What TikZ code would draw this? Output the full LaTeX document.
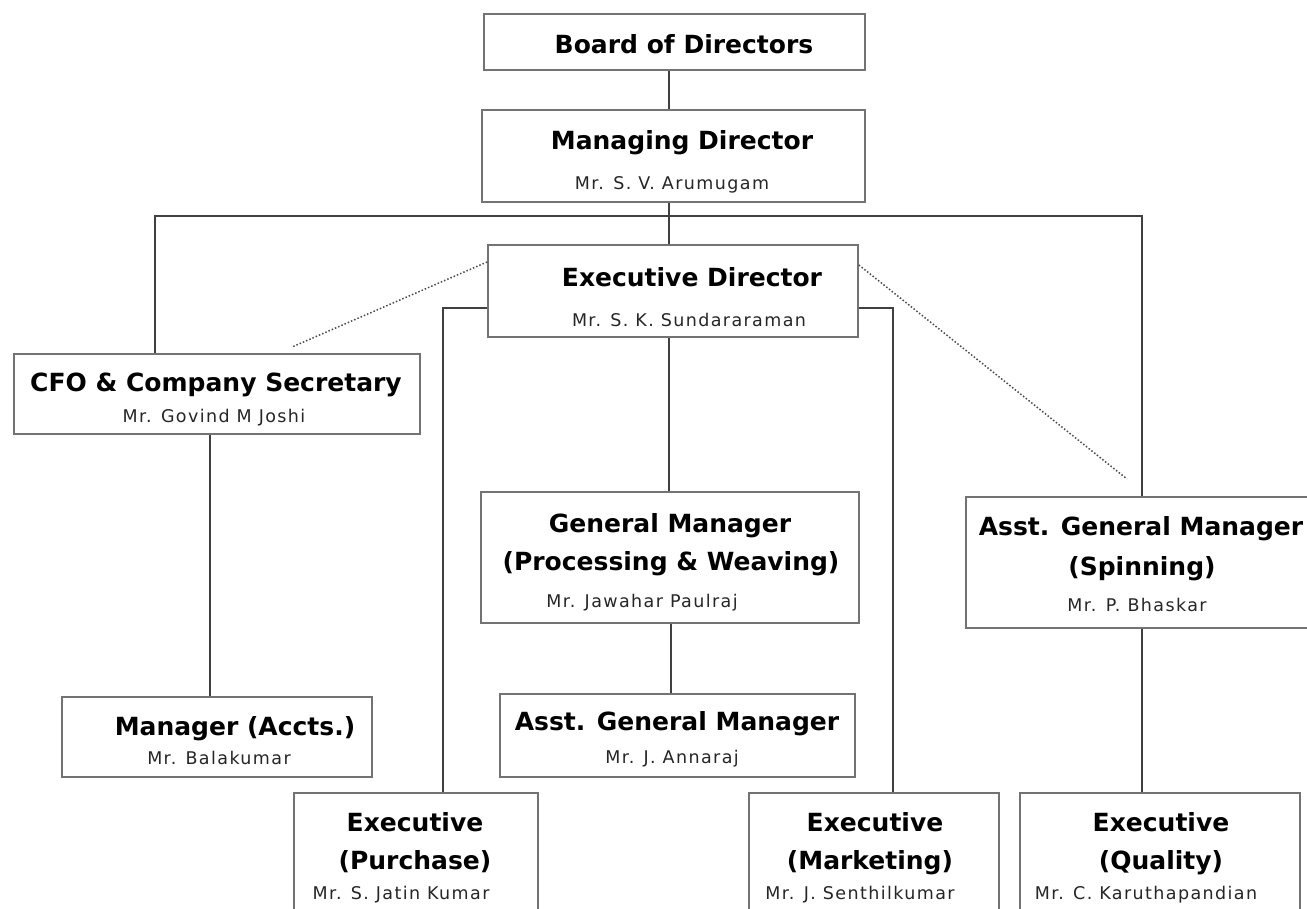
\documentclass[tikz,border=0pt]{standalone}
\usepackage{fontspec}
\setmainfont{DejaVu Sans}
\newfontfamily\titlefont{DejaVu Sans Bold}
\newfontfamily\namefont[LetterSpace=8]{DejaVu Sans}
\begin{document}
\begin{tikzpicture}[x=1pt,y=-1pt,
  box/.style={draw=black!55,line width=1.8pt,fill=white,inner sep=0pt},
  ttl/.style={inner sep=0pt,text height=18.2pt,text depth=0pt,font=\titlefont\fontsize{25}{30}\selectfont},
  nm/.style={inner sep=0pt,text height=12.8pt,text depth=0pt,font=\namefont\fontsize{17.5}{21}\selectfont,text=black!85},
  ln/.style={draw=black!75,line width=2pt},
  dl/.style={draw=black!70,line width=1.5pt,dotted}]
\clip (0,0) rectangle (1307,909);
\fill[white] (0,0) rectangle (1307,909);
% coordinates for connector columns
\coordinate (trunk) at (669,0);
\coordinate (lx) at (155,0);
\coordinate (rx) at (1142,0);
\coordinate (bus) at (669,216);
\coordinate (pl) at (443,308);
\coordinate (pr) at (893,308);
\coordinate (cfoc) at (210,0);
\coordinate (gmc) at (671,0);
% boxes
\node[box,minimum width=381,minimum height=56] (board) at (674.5,42) {};
\node[box,minimum width=383,minimum height=92] (md) at (673.5,156) {};
\node[box,minimum width=370,minimum height=92] (ed) at (673,291) {};
\node[box,minimum width=406,minimum height=80] (cfo) at (217,394) {};
\node[box,minimum width=378,minimum height=131] (gm) at (670,557.5) {};
\node[box,minimum width=355,minimum height=83] (agm) at (677.5,735.5) {};
\node[box,minimum width=310,minimum height=80] (mgr) at (217,737) {};
\node[box,minimum width=354,minimum height=131] (agms) at (1143,562.5) {};
\node[box,minimum width=244,minimum height=160] (purch) at (416,873) {};
\node[box,minimum width=250,minimum height=160] (mkt) at (874,873) {};
\node[box,minimum width=280,minimum height=160] (qual) at (1160,873) {};
% texts
\node[ttl] (t1) at (684,44) {Board of Directors};
\node[ttl] (t2) at (682,140) {Managing Director};
\node[nm]  (n2) at (672,183) {Mr. S. V. Arumugam};
\node[ttl] (t3) at (692,277) {Executive Director};
\node[nm]  (n3) at (689,320) {Mr. S. K. Sundararaman};
\node[ttl] (t4) at (216,382) {CFO \& Company Secretary};
\node[nm]  (n4) at (214,416) {Mr. Govind M Joshi};
\node[ttl] (t5a) at (670,523) {General Manager};
\node[ttl] (t5b) at (671,561) {(Processing \& Weaving)};
\node[nm]  (n5) at (642,601) {Mr. Jawahar Paulraj};
\node[ttl] (t6) at (677,721) {Asst. General Manager};
\node[nm]  (n6) at (672,757) {Mr. J. Annaraj};
\node[ttl] (t7) at (235,726) {Manager (Accts.)};
\node[nm]  (n7) at (219,758) {Mr. Balakumar};
\node[ttl] (t8a) at (1141,526) {Asst. General Manager};
\node[ttl] (t8b) at (1142,566) {(Spinning)};
\node[nm]  (n8) at (1137,605) {Mr. P. Bhaskar};
\node[ttl] (t9a) at (415,822) {Executive};
\node[ttl] (t9b) at (415,860) {(Purchase)};
\node[nm]  (n9) at (401,893) {Mr. S. Jatin Kumar};
\node[ttl] (t10a) at (875,822) {Executive};
\node[ttl] (t10b) at (870,860) {(Marketing)};
\node[nm]  (n10) at (860,893) {Mr. J. Senthilkumar};
\node[ttl] (t11a) at (1161,822) {Executive};
\node[ttl] (t11b) at (1161,860) {(Quality)};
\node[nm]  (n11) at (1146,893) {Mr. C. Karuthapandian};
% connectors
\draw[ln] (board.south -| trunk) -- (md.north -| trunk);
\draw[ln] (md.south -| trunk) -- (ed.north -| trunk);
\draw[ln] (cfo.north -| lx) -- (bus -| lx) -- (bus -| rx) -- (agms.north -| rx);
\draw[ln] (ed.south -| trunk) -- (gm.north -| trunk);
\draw[ln] (gm.south -| gmc) -- (agm.north -| gmc);
\draw[ln] (cfo.south -| cfoc) -- (mgr.north -| cfoc);
\draw[ln] (agms.south -| rx) -- (qual.north -| rx);
\draw[ln] (ed.west |- pl) -- (pl) -- (purch.north -| pl);
\draw[ln] (ed.east |- pr) -- (pr) -- (mkt.north -| pr);
\coordinate (d1) at (292,347);
\coordinate (d2) at (1127,479);
\draw[dl] (ed.west |- 0,262) -- (d1);
\draw[dl] (ed.east |- 0,265) -- (d2);
\end{tikzpicture}
\end{document}
